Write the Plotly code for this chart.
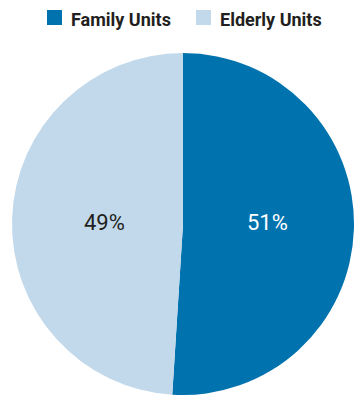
import plotly.graph_objects as go

# Share of housing units by type
categories = ["Family Units", "Elderly Units"]
shares = [51, 49]
colors = ["#0072AE", "#C2D9EB"]
text_colors = ["#FFFFFF", "#231F20"]

W, H = 356, 395
cx, cy, r = 183, 224, 171  # pie centre and radius in pixels

fig = go.Figure(
    go.Pie(
        labels=categories,
        values=shares,
        sort=False,
        direction="clockwise",
        rotation=0,
        marker=dict(colors=colors, line=dict(width=0)),
        textinfo="none",
        hoverinfo="label+percent",
        showlegend=False,
        domain=dict(
            x=[(cx - r) / W, min(1, (cx + r) / W)],
            y=[max(0, (H - cy - r) / H), (H - cy + r) / H],
        ),
    )
)

# Percentage labels, placed horizontally across the pie centre line
label_x = [267, 104]
label_y = 222
for v, lx, tc in zip(shares, label_x, text_colors):
    fig.add_annotation(
        x=lx / W, y=1 - label_y / H, xref="paper", yref="paper",
        text=f"{v}%", showarrow=False,
        font=dict(family="Roboto", size=22, color=tc),
        xanchor="center", yanchor="middle",
    )

# Legend row: coloured squares followed by bold labels
legend_sq_x = [47, 196]
legend_txt_x = [69, 218]
sq_top, sq_size = 10, 15
for name, col, sx, tx in zip(categories, colors, legend_sq_x, legend_txt_x):
    fig.add_shape(
        type="rect", xref="paper", yref="paper",
        x0=sx / W, x1=(sx + sq_size) / W,
        y0=1 - (sq_top + sq_size) / H, y1=1 - sq_top / H,
        fillcolor=col, line=dict(width=0),
    )
    fig.add_annotation(
        x=tx / W, y=1 - 19 / H, xref="paper", yref="paper",
        text=name, showarrow=False,
        font=dict(family="Roboto", size=18, color="#231F20", weight="bold"),
        xanchor="left", yanchor="middle",
    )

fig.update_layout(
    width=W,
    height=H,
    margin=dict(l=0, r=0, t=0, b=0),
    paper_bgcolor="white",
    plot_bgcolor="white",
    showlegend=False,
)

fig.write_html("out.html")
